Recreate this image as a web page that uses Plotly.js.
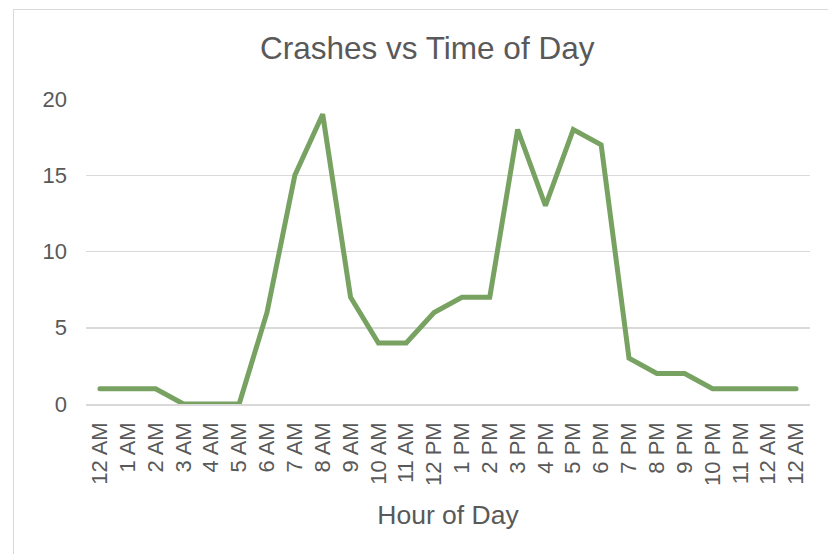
<!DOCTYPE html>
<html>
<head>
<meta charset="utf-8">
<script src="https://cdn.plot.ly/plotly-3.0.1.min.js"></script>
<style>
  html, body { margin: 0; padding: 0; background: #ffffff; }
  #wrap { position: relative; width: 828px; height: 554px; overflow: hidden; }
  #chart { width: 828px; height: 554px; }
  #frame { position: absolute; left: 13px; top: 9px; width: 900px; height: 700px;
           border: 1.5px solid #d9d9d9; pointer-events: none; box-sizing: border-box; }
  .js-line { stroke-linecap: round; }
</style>
</head>
<body>
<div id="wrap">
  <div id="chart"></div>
  <div id="frame"></div>
</div>
<script>
// Hour-of-day category labels (as shown on the axis)
var hourLabels = ["12 AM","1 AM","2 AM","3 AM","4 AM","5 AM","6 AM","7 AM","8 AM","9 AM",
                  "10 AM","11 AM","12 PM","1 PM","2 PM","3 PM","4 PM","5 PM","6 PM","7 PM",
                  "8 PM","9 PM","10 PM","11 PM","12 AM","12 AM"];
// Number of crashes per hour
var crashes = [1,1,1,0,0,0,6,15,19,7,4,4,6,7,7,18,13,18,17,3,2,2,1,1,1,1];
// Y axis ticks
var yTicks = [0, 5, 10, 15, 20];

var positions = hourLabels.map(function (_, i) { return i; });

var trace = {
  type: 'scatter',
  mode: 'lines',
  x: positions,
  y: crashes,
  line: { color: '#78A262', width: 5, shape: 'linear' },
  hoverinfo: 'skip'
};

var font = 'Liberation Sans, Arial, sans-serif';

var layout = {
  width: 828,
  height: 554,
  paper_bgcolor: 'rgba(0,0,0,0)',
  plot_bgcolor: 'rgba(0,0,0,0)',
  margin: { l: 86, r: 18, t: 99, b: 150, pad: 0 },
  showlegend: false,
  font: { family: font, color: '#595959' },
  title: {
    text: 'Crashes vs Time of Day',
    font: { family: font, size: 31.5, color: '#595959' },
    xref: 'container', x: 0.516, xanchor: 'center',
    yref: 'container', y: 1 - 48 / 554, yanchor: 'middle'
  },
  xaxis: {
    range: [-0.5, hourLabels.length - 0.5],
    tickmode: 'array',
    tickvals: positions,
    ticktext: hourLabels,
    tickangle: -90,
    tickfont: { family: font, size: 22, color: '#595959' },
    ticks: '',
    ticklabelstandoff: 8,
    showgrid: false,
    zeroline: false,
    showline: true,
    linecolor: '#d9d9d9',
    linewidth: 1.5,
    automargin: false,
    fixedrange: true,
    title: {
      text: 'Hour of Day',
      font: { family: font, size: 26.5, color: '#595959' },
      standoff: 20
    }
  },
  yaxis: {
    range: [0, 20],
    tickmode: 'array',
    tickvals: yTicks,
    ticktext: yTicks.map(String),
    tickfont: { family: font, size: 22, color: '#595959' },
    ticks: '',
    ticklabelstandoff: 18,
    showgrid: true,
    gridcolor: '#d9d9d9',
    gridwidth: 1.5,
    zeroline: false,
    showline: false,
    automargin: false,
    fixedrange: true
  }
};

Plotly.newPlot('chart', [trace], layout, { staticPlot: true, displayModeBar: false });
</script>
</body>
</html>
